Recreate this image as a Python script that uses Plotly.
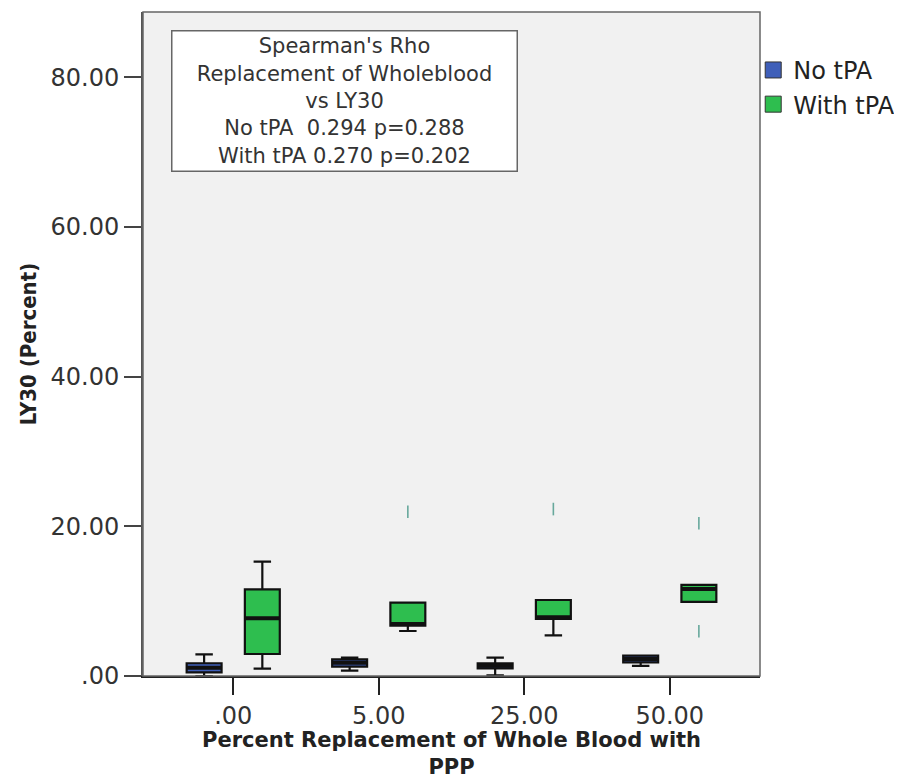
import plotly.graph_objects as go

# ---- data ----
categories = [".00", "5.00", "25.00", "50.00"]
cat_index = [0, 1, 2, 3]

no_tpa_lower = [0.00, 0.71, 0.10, 1.34]
no_tpa_q1 = [0.49, 1.24, 1.03, 1.83]
no_tpa_median = [1.11, 1.78, 1.38, 2.27]
no_tpa_q3 = [1.70, 2.23, 1.70, 2.71]
no_tpa_upper = [2.90, 2.45, 2.45, 2.71]

with_tpa_lower = [0.98, 6.01, 5.44, 9.89]
with_tpa_q1 = [2.94, 6.72, 7.62, 9.89]
with_tpa_median = [7.71, 6.95, 7.84, 11.62]
with_tpa_q3 = [11.58, 9.79, 10.15, 12.16]
with_tpa_upper = [15.27, 9.79, 10.15, 12.16]

with_tpa_outlier_cat = [1, 2, 3, 3]
with_tpa_outlier_val = [21.95, 22.3, 20.4, 5.97]

y_tick_vals = [0, 20, 40, 60, 80]
y_tick_text = [".00", "20.00", "40.00", "60.00", "80.00"]

x_title = "Percent Replacement of Whole Blood with<br>PPP"
y_title = "LY30 (Percent)"

# ---- styling ----
BLUE = "#3F5FB9"
GREEN = "#2EBE4F"
OUTLIER = "#67A89C"
OFFSET = 0.2
BOX_W = 0.24
FONT = "DejaVu Sans"

fig = go.Figure()


def add_group(xs, q1, med, q3, lo, hi, fill, name):
    fig.add_trace(go.Box(
        x=xs, q1=q1, median=med, q3=q3, lowerfence=lo, upperfence=hi,
        width=BOX_W, fillcolor=fill, line=dict(color="#111111", width=2.2),
        whiskerwidth=0.5, showlegend=False, name=name,
    ))
    # thicker median stroke, as in the SPSS original
    fig.add_trace(go.Box(
        x=xs, q1=med, median=med, q3=med, lowerfence=med, upperfence=med,
        width=BOX_W, fillcolor="#111111", line=dict(color="#111111", width=4),
        whiskerwidth=0, showlegend=False, name=name, hoverinfo="skip",
    ))


add_group([i - OFFSET for i in cat_index], no_tpa_q1, no_tpa_median, no_tpa_q3,
          no_tpa_lower, no_tpa_upper, BLUE, "No tPA")
add_group([i + OFFSET for i in cat_index], with_tpa_q1, with_tpa_median, with_tpa_q3,
          with_tpa_lower, with_tpa_upper, GREEN, "With tPA")

fig.add_trace(go.Scatter(
    x=[c + OFFSET for c in with_tpa_outlier_cat], y=with_tpa_outlier_val,
    mode="markers", showlegend=False, name="Outliers",
    marker=dict(symbol="line-ns-open", size=9, color=OUTLIER,
                line=dict(color=OUTLIER, width=1.6)),
))

# legend entries
for nm, col in [("No tPA", BLUE), ("With tPA", GREEN)]:
    fig.add_trace(go.Scatter(
        x=[None], y=[None], mode="markers", name=nm,
        marker=dict(symbol="square", size=20, color=col, line=dict(color="#333333", width=1)),
    ))

fig.update_layout(
    width=894, height=771,
    margin=dict(l=135, r=142, t=4, b=103, autoexpand=False),
    paper_bgcolor="white", plot_bgcolor="#F1F1F1",
    font=dict(family=FONT, color="#333333"),
    legend=dict(x=0.989, xanchor="left", y=0.946, yanchor="top",
                font=dict(size=24, color="#222222", family=FONT),
                bgcolor="rgba(0,0,0,0)", tracegroupgap=0, itemwidth=30),
    xaxis=dict(
        range=[-0.62, 3.62], tickvals=cat_index, ticktext=categories,
        ticks="outside", ticklen=17, tickwidth=2, tickcolor="#222222",
        tickfont=dict(size=24, color="#333333"),
        showgrid=False, zeroline=False, automargin=False,
        showline=True, linecolor="#222222", linewidth=2, mirror=False,
    ),
    yaxis=dict(
        range=[0, 88.7], tickvals=y_tick_vals, ticktext=y_tick_text,
        ticks="outside", ticklen=17, tickwidth=2, tickcolor="#444444",
        tickfont=dict(size=24, color="#333333"),
        showgrid=False, zeroline=False, automargin=False,
        showline=True, linecolor="#555555", linewidth=2, mirror=False,
        title=dict(text="<b>" + y_title + "</b>",
                   font=dict(size=22, color="#222222", family="DejaVu Sans Condensed"),
                   standoff=8),
    ),
    shapes=[
        dict(type="rect", xref="paper", yref="paper", x0=0, x1=1, y0=0, y1=1,
             line=dict(color="#666666", width=1.5), fillcolor="rgba(0,0,0,0)", layer="above"),
    ],
    annotations=[
        dict(
            xref="paper", yref="paper", x=0.327, y=0.973, xanchor="center", yanchor="top",
            text="Spearman's Rho<br>Replacement of Wholeblood<br>vs LY30<br>No tPA  0.294 p=0.288<br>With tPA 0.270 p=0.202",
            showarrow=False, align="center",
            font=dict(size=21, color="#333333", family=FONT),
            bgcolor="white", bordercolor="#666666", borderwidth=1.5,
            width=342, height=137,
        ),
        # x-axis title (as annotation to keep SPSS-like placement below tick labels)
        dict(
            xref="paper", yref="paper", x=0.5, y=-0.1167, xanchor="center", yanchor="middle",
            text="<b>" + x_title + "</b>", showarrow=False, align="center",
            font=dict(size=21, color="#222222", family=FONT),
        ),
    ],
)

fig.write_html("out.html")
